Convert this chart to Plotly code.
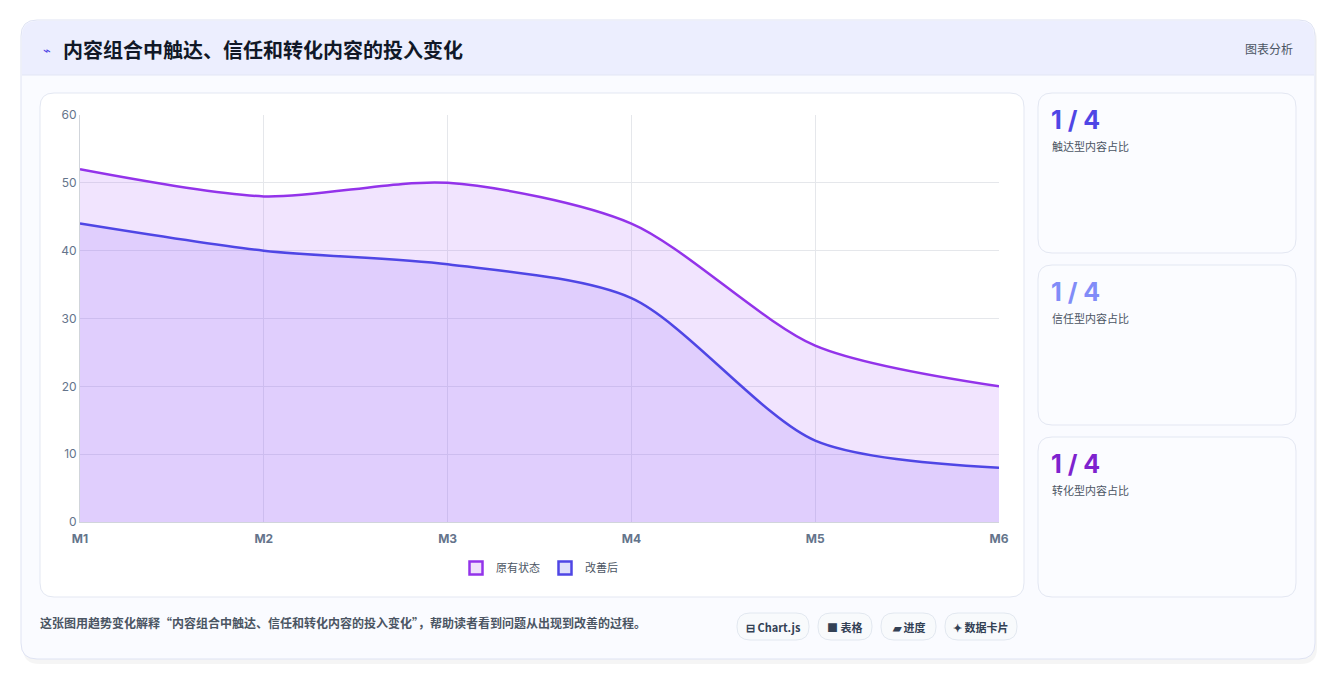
import plotly.graph_objects as go

months = ["M1", "M2", "M3", "M4", "M5", "M6"]
original = [52, 48, 50, 44, 26, 20]
improved = [44, 40, 38, 33, 12, 8]
card_values = ["1 / 4", "1 / 4", "1 / 4"]
card_labels = ["触达型内容占比", "信任型内容占比", "转化型内容占比"]
card_colors = ["#4f46e5", "#818cf8", "#7e22ce"]
badges = ["⊟ Chart.js", "■ 表格", "▰ 进度", "✦ 数据卡片"]

OFF = 8
W, H = 1336, 680
L, R, T, B = 80, 999, 115, 522

def px(x):
    return (x - L) / (R - L)

def py(y):
    return (B - y) / (B - T)

def rrect(x0, y0, x1, y1, r, fill, line="rgba(0,0,0,0)", width=1, layer="below"):
    X0, X1 = px(x0), px(x1)
    rx = r / (R - L); ry = r / (B - T)
    Y0, Y1 = py(y1), py(y0)
    path = (f"M {X0+rx},{Y0} L {X1-rx},{Y0} Q {X1},{Y0} {X1},{Y0+ry} "
            f"L {X1},{Y1-ry} Q {X1},{Y1} {X1-rx},{Y1} L {X0+rx},{Y1} "
            f"Q {X0},{Y1} {X0},{Y1-ry} L {X0},{Y0+ry} Q {X0},{Y0} {X0+rx},{Y0} Z")
    return dict(type="path", xref="paper", yref="paper", path=path, fillcolor=fill,
                line=dict(color=line, width=width), layer=layer)

fig = go.Figure()
fig.add_trace(go.Scatter(x=months, y=original, name="原有状态", mode="lines", showlegend=False,
                         line=dict(color="#9333ea", width=2.5, shape="spline", smoothing=0.8),
                         fill="tozeroy", fillcolor="rgba(168,85,247,0.16)"))
fig.add_trace(go.Scatter(x=months, y=improved, name="改善后", mode="lines", showlegend=False,
                         line=dict(color="#4f46e5", width=2.5, shape="spline", smoothing=0.8),
                         fill="tozeroy", fillcolor="rgba(139,92,246,0.16)"))
for name, col, fc in [("原有状态", "#9333ea", "#f0e1fb"), ("改善后", "#4f46e5", "#e0e0fb")]:
    fig.add_trace(go.Scatter(x=[None], y=[None], name=name, mode="markers",
                             marker=dict(symbol="square", size=13, color=fc,
                                         line=dict(color=col, width=2.5))))

shapes = []
shapes.append(rrect(23, 24, 1317, 664, 16, "rgba(0,0,0,0.04)"))
shapes.append(rrect(21, 20, 1315, 659, 16, "#fafbff", "#dfe3f3"))
shapes.append(dict(type="rect", xref="paper", yref="paper", x0=px(22), x1=px(1314),
                   y0=py(75), y1=py(36), fillcolor="#eceefe", line=dict(width=0), layer="below"))
shapes.append(rrect(22, 21, 1314, 50, 15, "#eceefe"))
shapes.append(dict(type="line", xref="paper", yref="paper", x0=px(22), x1=px(1314),
                   y0=py(75), y1=py(75), line=dict(color="#e2e6f5", width=1), layer="below"))
shapes.append(rrect(40, 93, 1024, 597, 14, "#ffffff", "#e3e7f2"))
for y0 in (93, 265, 437):
    shapes.append(rrect(1038, y0, 1296, y0 + 160, 14, "#fbfcff", "#e3e7f2"))
bx = [(737, 809), (818, 872), (881, 936), (945, 1017)]
for x0, x1 in bx:
    shapes.append(rrect(x0, 613, x1, 640, 13, "#f8fafc", "#e2e8f0"))

ann = []
def A(x, y, text, size, color, xanchor="left", family=None):
    f = dict(size=size, color=color)
    if family:
        f["family"] = family
    ann.append(dict(x=px(x), y=py(y), xref="paper", yref="paper", text=text, showarrow=False,
                    font=f, xanchor=xanchor, yanchor="middle"))

A(41, 49, "⌁", 13, "#4f46e5")
A(61, 49, "<b>内容组合中触达、信任和转化内容的投入变化</b>", 20, "#111827")
A(1295, 48, "图表分析", 12, "#4b5563", "right")
for i, y0 in enumerate((93, 265, 437)):
    A(1049, y0 + 27, f"<b>{card_values[i]}</b>", 25, card_colors[i], family="Inter, Noto Sans CJK SC")
    A(1050, y0 + 53, card_labels[i], 11, "#4b5563")
A(38, 622, "<b>这张图用趋势变化解释“内容组合中触达、信任和转化内容的投入变化”，帮助读者看到问题从出现到改善的过程。</b>",
  12, "#4b5563")
for (x0, x1), t in zip(bx, badges):
    A((x0 + x1) / 2, 627, f"<b>{t}</b>", 11, "#334155", "center")

fig.update_layout(
    width=W, height=H, paper_bgcolor="#ffffff", plot_bgcolor="rgba(0,0,0,0)",
    margin=dict(l=L - OFF, r=W - R + OFF, t=T - OFF, b=H - B + OFF),
    font=dict(family="Noto Sans CJK SC, Inter, sans-serif", color="#64748b"),
    shapes=shapes, annotations=ann,
    legend=dict(orientation="h", x=0.5, xanchor="center", y=py(568), yanchor="middle",
                font=dict(size=11, color="#4b5563"), bgcolor="rgba(0,0,0,0)",
                itemwidth=30, tracegroupgap=0),
    xaxis=dict(range=[0, 5], showgrid=True, gridcolor="#e5e7eb", linecolor="#d1d5db",
               tickfont=dict(size=12, color="#64748b", family="Inter", weight="bold"), ticks="",
               zeroline=False, tickmode="array", tickvals=[0, 1, 2, 3, 4, 5], ticktext=months,
               ticklabelstandoff=6),
    yaxis=dict(range=[0, 60], dtick=10, showgrid=True, gridcolor="#e5e7eb",
               linecolor="#d1d5db", showline=True, zeroline=False,
               tickfont=dict(size=12, color="#64748b", family="Inter")),
)
fig.write_html("out.html")
